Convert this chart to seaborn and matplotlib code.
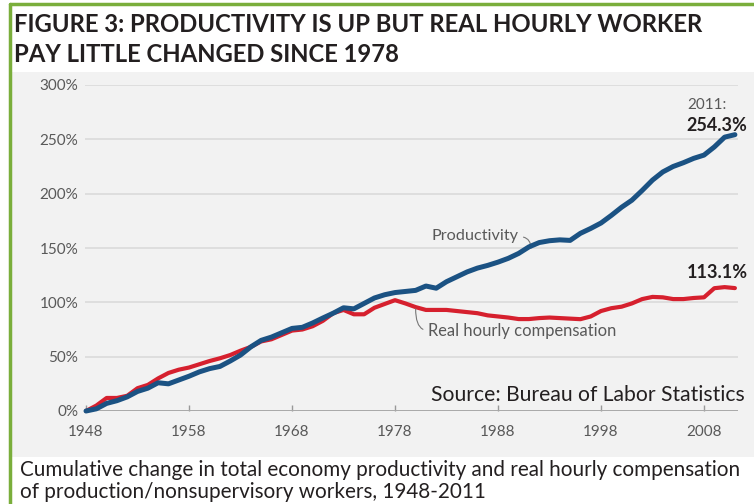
import pandas as pd
import matplotlib
matplotlib.use("Agg")
import matplotlib.pyplot as plt
import seaborn as sns
from matplotlib.patches import Rectangle
from matplotlib.lines import Line2D

years = list(range(1948, 2012))
productivity = [0, 2, 7, 9.5, 13, 18, 21, 26, 25, 28.5,
                32, 36, 39, 41, 46, 51.5, 59, 65, 68, 72,
                76, 77, 81, 85.6, 90, 95, 94, 99, 104, 107,
                109, 110, 111, 115, 113, 119, 123.5, 128, 131.5, 134,
                137, 140.5, 145, 151, 155, 156.7, 157.5, 157, 163.5, 168,
                173, 180, 187.5, 194, 203, 212.5, 220, 225, 228.5, 232.5,
                235.5, 243, 252, 254.3]
compensation = [0, 5, 12, 12, 14, 21, 24, 30, 35, 38,
                40, 43, 46, 48.5, 51.5, 55.5, 59, 64, 66, 70,
                74, 75, 78, 83, 90, 93, 89, 89, 95, 98.5,
                102, 99, 95.6, 93, 93, 93, 92, 91, 90, 88,
                87, 86, 84.6, 84.6, 85.5, 86, 85.5, 85, 84.5, 87,
                92, 94.6, 96, 99, 103, 105, 104.6, 103, 103, 104,
                104.6, 113, 114, 113.1]
y_ticks = [0, 50, 100, 150, 200, 250, 300]
y_labels = ['0%', '50%', '100%', '150%', '200%', '250%', '300%']
x_ticks = [1948, 1958, 1968, 1978, 1988, 1998, 2008]

df = pd.DataFrame({'year': years,
                   'Productivity': productivity,
                   'Real hourly compensation': compensation})

sns.set_theme(style="white")
plt.rcParams['font.family'] = ['Lato', 'DejaVu Sans']

W, H = 754, 504
fig = plt.figure(figsize=(W / 100, H / 100), dpi=100)
fig.patch.set_facecolor('white')

# grey panel + green frame
fig.add_artist(Rectangle((12 / W, 1 - 457 / H), 1, (457 - 72) / H,
                         transform=fig.transFigure, facecolor='#f2f2f2',
                         edgecolor='none', zorder=0))
green = '#7aae3b'
fig.add_artist(Line2D([10 / W, 1], [1 - 4 / H, 1 - 4 / H], color=green, lw=2.5))
fig.add_artist(Line2D([10 / W, 10 / W], [0, 1 - 4 / H], color=green, lw=2.5))

ax = fig.add_axes([85 / W, 1 - 411 / H, 653 / W, 326 / H])
ax.set_facecolor('none')

sns.lineplot(data=df, x='year', y='Real hourly compensation', color='#d6202e',
             lw=3.0, ax=ax, clip_on=False, zorder=3)
sns.lineplot(data=df, x='year', y='Productivity', color='#1b5283',
             lw=3.6, ax=ax, clip_on=False, zorder=4)

ax.set_xlim(1947.9, 2011.3)
ax.set_ylim(0, 300)
ax.set_yticks(y_ticks)
ax.set_yticklabels(y_labels)
ax.set_xticks(x_ticks)
ax.set_xlabel('')
ax.set_ylabel('')
ax.grid(axis='y', color='#dcdcdc', lw=1.3)
ax.grid(axis='x', visible=False)
ax.axhline(0, color='#9a9a9a', lw=1.8, zorder=2)
for s in ax.spines.values():
    s.set_visible(False)
ax.tick_params(axis='x', direction='in', length=4, width=1, color='#999999',
               pad=10, labelsize=11, labelcolor='#595959', bottom=True)
ax.tick_params(axis='y', length=0, pad=5, labelsize=11, labelcolor='#595959')

# annotations
ax.text(2006.4, 281.5, '2011:', fontsize=11, color='#595959', va='center', ha='left')
ax.text(2006.3, 263, '254.3%', fontsize=13, fontweight='bold', color='#231f20',
        va='center', ha='left')
ax.text(2006.3, 127, '113.1%', fontsize=13, fontweight='bold', color='#231f20',
        va='center', ha='left')
ax.annotate('Productivity', xy=(1991.2, 150), xytext=(1985.8, 161),
            fontsize=11.7, color='#595959', ha='center', va='center',
            arrowprops=dict(arrowstyle='-', color='#777777', lw=0.8,
                            shrinkA=1, shrinkB=0, relpos=(1, 0.45),
                            connectionstyle='arc3,rad=-0.5'))
ax.annotate('Real hourly compensation', xy=(1980.0, 94), xytext=(1990.3, 73.5),
            fontsize=11.9, color='#595959', ha='center', va='center',
            arrowprops=dict(arrowstyle='-', color='#777777', lw=0.8,
                            shrinkA=1, shrinkB=0, relpos=(0, 0.55),
                            connectionstyle='angle3,angleA=0,angleB=90'))
ax.text(1981.5, 14.7, 'Source: Bureau of Labor Statistics', fontsize=15.2,
        color='#231f20', va='center', ha='left')

# title and caption
fig.text(14 / W, 1 - 24 / H, 'FIGURE 3: PRODUCTIVITY IS UP BUT REAL HOURLY WORKER',
         fontsize=17.2, fontweight='bold', color='#231f20', va='center', ha='left')
fig.text(14 / W, 1 - 55 / H, 'PAY LITTLE CHANGED SINCE 1978',
         fontsize=17.2, fontweight='bold', color='#231f20', va='center', ha='left')
fig.text(20 / W, 1 - 470 / H,
         'Cumulative change in total economy productivity and real hourly compensation',
         fontsize=14.9, color='#231f20', va='center', ha='left')
fig.text(20 / W, 1 - 492 / H, 'of production/nonsupervisory workers, 1948-2011',
         fontsize=14.9, color='#231f20', va='center', ha='left')

fig.savefig('out.png', dpi=100)
